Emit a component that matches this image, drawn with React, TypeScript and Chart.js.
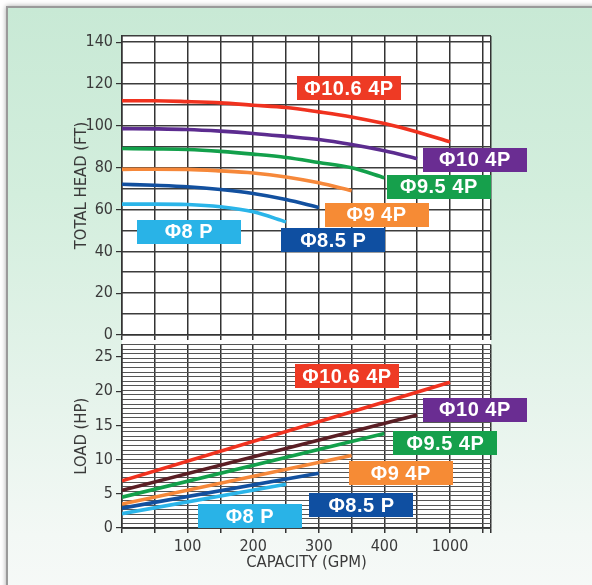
import React, { useEffect, useRef } from "react";
import { Chart, registerables } from "chart.js";

Chart.register(...registerables);

// ---------- data ----------
const GPM_POINTS = [0, 50, 100, 150, 200, 250, 300, 350, 400, 450, 500];
const GPM_TICKS = [0, 50, 100, 150, 200, 250, 300, 350, 400, 450, 500, 550];
const GPM_MAX = 562.5;
const GPM_TICK_LABELS: Record<number, string> = { 100: "100", 200: "200", 300: "300", 400: "400", 500: "1000" };

const HEAD_TICKS = [0, 20, 40, 60, 80, 100, 120, 140];
const HEAD_GRID_STEP = 10;
const HEAD_MAX = 143;

const LOAD_TICKS = [0, 5, 10, 15, 20, 25];
const LOAD_GRID_STEP = 0.6705; // 0.5 kW expressed in HP
const LOAD_MAX = 26.82;

const SERIES_NAMES = ["Φ10.6 4P", "Φ10 4P", "Φ9.5 4P", "Φ9 4P", "Φ8.5 P", "Φ8 P"];

// total head (ft) read at GPM_POINTS
const HEAD_D106 = [112, 112, 111.6, 111, 109.9, 108.8, 106.7, 104.3, 101.1, 97.1, 92.4];
const HEAD_D10 = [98.7, 98.6, 98.3, 97.5, 96.4, 95, 93.5, 91.1, 88.1, 84.4];
const HEAD_D95 = [89.2, 89, 88.7, 87.8, 86.5, 84.9, 82.5, 80, 75.2];
const HEAD_D9 = [79.2, 79.3, 79.2, 78.5, 77.5, 75.6, 72.8, 69];
const HEAD_D85 = [72.1, 71.6, 70.9, 69.6, 67.7, 64.8, 61];
const HEAD_D8 = [62.6, 62.6, 62.4, 61.3, 58.9, 54.1];

// load (HP): straight lines from 0 GPM to end capacity
const LOAD_END_GPM = [500, 450, 400, 350, 300, 250];
const LOAD_START_HP = [6.9, 5.5, 4.5, 3.5, 2.9, 2.1];
const LOAD_END_HP = [21.3, 16.5, 13.8, 10.6, 8.0, 6.4];

// ---------- styles / layout ----------
const BOX_COLORS = ["#ee3a24", "#6a2d92", "#16a04c", "#f68b35", "#0f4fa1", "#29b3e7"];
const HEAD_LINE_COLORS = ["#f0321f", "#5c2c8f", "#13a04b", "#f6883a", "#12509f", "#2bb5e9"];
const LOAD_LINE_COLORS = ["#f0321f", "#5a1e24", "#13a04b", "#f6883a", "#12509f", "#2bb5e9"];

// label anchors (centre, in data units)
const HEAD_LABEL_POS = [
  [346, 118.1],
  [538, 83.9],
  [483, 70.9],
  [388, 57.6],
  [322, 45.2],
  [102, 49.5],
];
const LOAD_LABEL_POS = [
  [343, 22.2],
  [538, 17.3],
  [493, 12.4],
  [425, 8.0],
  [365, 3.3],
  [195, 1.7],
];

const NARROW = "'Liberation Sans Narrow', 'DejaVu Sans Condensed', Arial, sans-serif";
const AXIS_COLOR = "#3a3a3a";

function boxLabelPlugin(pos: number[][]) {
  return {
    id: "boxLabels",
    afterDatasetsDraw(chart: any) {
      const { ctx, scales } = chart;
      const x = scales.x;
      const y = scales.y;
      SERIES_NAMES.forEach((name, i) => {
        const cx = x.getPixelForValue(pos[i][0]);
        const cy = y.getPixelForValue(pos[i][1]);
        ctx.save();
        ctx.fillStyle = BOX_COLORS[i];
        ctx.fillRect(Math.round(cx - 52), Math.round(cy - 12), 104, 24);
        ctx.fillStyle = "#ffffff";
        ctx.font = "bold 20px 'Liberation Sans', Arial, sans-serif";
        (ctx as any).letterSpacing = "0.5px";
        ctx.textAlign = "center";
        ctx.textBaseline = "middle";
        ctx.fillText(name, cx, cy + 1);
        ctx.restore();
      });
    },
  };
}

function range(step: number, max: number) {
  const out: number[] = [];
  for (let k = 0; k * step <= max + 1e-6; k++) out.push(+(k * step).toFixed(4));
  return out;
}

function xScale(showLabels: boolean, height: number, withTitle: boolean) {
  return {
    type: "linear",
    min: 0,
    max: GPM_MAX,
    afterBuildTicks: (s: any) => {
      s.ticks = [...GPM_TICKS, GPM_MAX].map((v) => ({ value: v }));
    },
    afterFit: (s: any) => {
      s.height = height;
      s.paddingLeft = 0;
      s.paddingRight = 0;
    },
    grid: { color: "#333333", lineWidth: 1.5, tickLength: 5, drawTicks: true },
    border: { display: true, color: "#333333", width: 1.5 },
    ticks: {
      display: showLabels,
      autoSkip: false,
      maxRotation: 0,
      padding: 4,
      color: AXIS_COLOR,
      font: { family: NARROW, size: 16 },
      callback: (v: any) => GPM_TICK_LABELS[v] ?? "",
    },
    title: {
      display: withTitle,
      text: "CAPACITY (GPM)",
      color: AXIS_COLOR,
      font: { family: NARROW, size: 16.5 },
      padding: { top: 0, bottom: 12.6 },
    },
  };
}

function yLabelScale(ticks: number[], max: number, title: string) {
  return {
    type: "linear",
    position: "left",
    min: 0,
    max,
    afterBuildTicks: (s: any) => {
      s.ticks = ticks.map((v) => ({ value: v }));
    },
    afterFit: (s: any) => {
      s.width = 122;
      s.paddingTop = 0;
      s.paddingBottom = 0;
    },
    grid: { drawOnChartArea: false, color: "#333333", tickLength: 6, lineWidth: 1.2 },
    border: { display: true, color: "#333333", width: 1.5 },
    ticks: {
      padding: 3,
      color: AXIS_COLOR,
      font: { family: NARROW, size: 16 },
      callback: (v: any) => String(v),
    },
    title: {
      display: true,
      text: title,
      color: AXIS_COLOR,
      font: { family: NARROW, size: 16.5 },
      padding: { top: 72, bottom: 0 },
    },
  };
}

function yGridScale(step: number, max: number, color: string, width: number) {
  return {
    type: "linear",
    position: "left",
    min: 0,
    max,
    afterBuildTicks: (s: any) => {
      s.ticks = [...range(step, max), max].map((v) => ({ value: v }));
    },
    afterFit: (s: any) => {
      s.width = 0;
      s.paddingTop = 0;
      s.paddingBottom = 0;
    },
    grid: { drawTicks: false, color, lineWidth: width },
    border: { display: false },
    ticks: { display: false },
  };
}

function HeadChart() {
  const ref = useRef<HTMLCanvasElement>(null);
  useEffect(() => {
    const heads = [HEAD_D106, HEAD_D10, HEAD_D95, HEAD_D9, HEAD_D85, HEAD_D8];
    const chart = new Chart(ref.current as HTMLCanvasElement, {
      type: "line",
      data: {
        datasets: heads.map((vals, i) => ({
          label: SERIES_NAMES[i],
          data: vals.map((v, j) => ({ x: GPM_POINTS[j], y: v })),
          borderColor: HEAD_LINE_COLORS[i],
          borderWidth: 3.6,
          pointRadius: 0,
          cubicInterpolationMode: "monotone",
          fill: false,
        })),
      },
      options: {
        responsive: false,
        animation: false,
        layout: { padding: { top: 36, left: 0, right: 101, bottom: 0 } },
        plugins: { legend: { display: false }, tooltip: { enabled: false } },
        scales: {
          x: xScale(false, 10, false),
          yg: yGridScale(HEAD_GRID_STEP, HEAD_MAX, "#3c3c3c", 1.6),
          y: yLabelScale(HEAD_TICKS, HEAD_MAX, "TOTAL HEAD (FT)"),
        },
      } as any,
      plugins: [boxLabelPlugin(HEAD_LABEL_POS)],
    } as any);
    return () => chart.destroy();
  }, []);
  return (
    <canvas
      ref={ref}
      width={592}
      height={345}
      style={{ position: "absolute", left: 0, top: 0, width: 592, height: 345 }}
    />
  );
}

function LoadChart() {
  const ref = useRef<HTMLCanvasElement>(null);
  useEffect(() => {
    const chart = new Chart(ref.current as HTMLCanvasElement, {
      type: "line",
      data: {
        datasets: SERIES_NAMES.map((name, i) => ({
          label: name,
          data: [
            { x: 0, y: LOAD_START_HP[i] },
            { x: LOAD_END_GPM[i], y: LOAD_END_HP[i] },
          ],
          borderColor: LOAD_LINE_COLORS[i],
          borderWidth: 3.6,
          pointRadius: 0,
          fill: false,
        })),
      },
      options: {
        responsive: false,
        animation: false,
        layout: { padding: { top: 4.5, left: 0, right: 101, bottom: 0 } },
        plugins: { legend: { display: false }, tooltip: { enabled: false } },
        scales: {
          x: xScale(true, 57, true),
          yg: yGridScale(LOAD_GRID_STEP, LOAD_MAX, "#555555", 1),
          y: yLabelScale(LOAD_TICKS, LOAD_MAX, "LOAD (HP)"),
        },
      } as any,
      plugins: [boxLabelPlugin(LOAD_LABEL_POS)],
    } as any);
    return () => chart.destroy();
  }, []);
  return (
    <canvas
      ref={ref}
      width={592}
      height={245}
      style={{ position: "absolute", left: 0, top: 340, width: 592, height: 245 }}
    />
  );
}

export default function App() {
  return (
    <div
      style={{
        position: "absolute",
        left: 0,
        top: 0,
        width: 592,
        height: 585,
        overflow: "hidden",
        background: "#ffffff",
      }}
    >
      <div
        style={{
          position: "absolute",
          left: 6,
          top: 6,
          width: 620,
          height: 620,
          border: "2px solid #9a9a9a",
          boxShadow: "0 0 5px rgba(0,0,0,0.35)",
          background: "linear-gradient(180deg, #c8e9d5 0%, #d3eedd 30%, #e4f3ea 60%, #f3f8f5 85%, #f8faf9 100%)",
        }}
      />
      <div
        style={{
          position: "absolute",
          left: 122,
          top: 36,
          width: 369,
          height: 492,
          background: "#ffffff",
        }}
      />
      <HeadChart />
      <LoadChart />
    </div>
  );
}
